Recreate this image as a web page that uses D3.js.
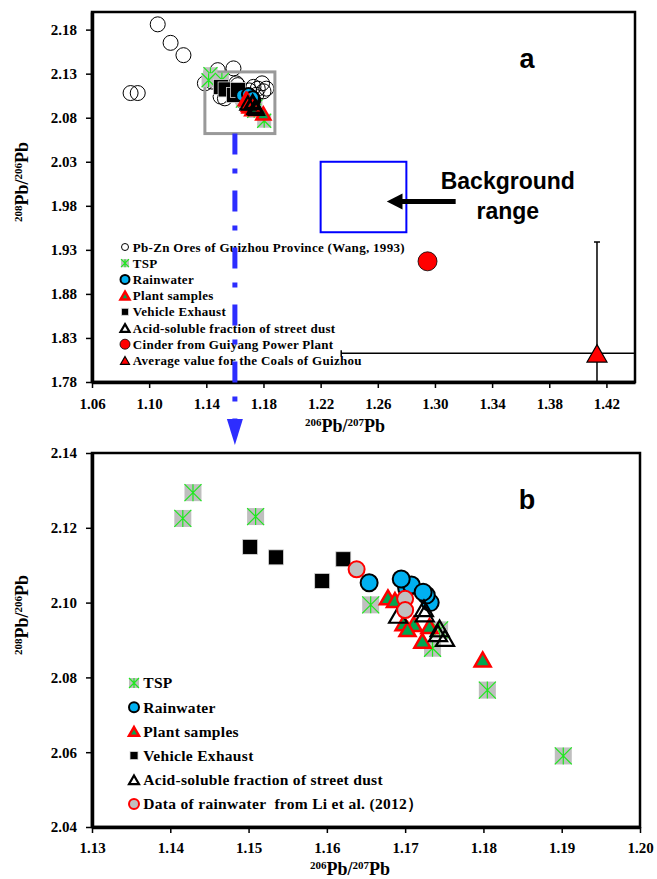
<!DOCTYPE html>
<html>
<head>
<meta charset="utf-8">
<script src="https://cdn.jsdelivr.net/npm/d3@7/dist/d3.min.js"></script>
<style>
  body { margin: 0; background: #fff; }
  svg { display: block; }
  text { white-space: pre; }
</style>
</head>
<body>
<div id="chart"></div>
<script>
// ---- data ([206Pb/207Pb, 208Pb/206Pb]) ----
const oreRatios = [[1.106, 2.186], [1.115, 2.165], [1.124, 2.151], [1.087, 2.108], [1.092, 2.108],
  [1.148, 2.134], [1.159, 2.136], [1.144, 2.121], [1.139, 2.119], [1.150, 2.104], [1.153, 2.102],
  [1.162, 2.117], [1.173, 2.115], [1.176, 2.113], [1.180, 2.110], [1.175, 2.106], [1.170, 2.111],
  [1.182, 2.113], [1.179, 2.119], [1.166, 2.098], [1.161, 2.119]];
const tspRatios = [[1.1429, 2.1294], [1.1416, 2.1225], [1.1509, 2.1230], [1.1656, 2.0994],
  [1.1744, 2.0927], [1.1735, 2.0878], [1.1805, 2.0766], [1.1902, 2.0590]];
const vehicleRatios = [[1.1502, 2.1149], [1.1535, 2.1121], [1.1594, 2.1058], [1.1621, 2.1116]];
const rainRatios = [[1.1654, 2.1053], [1.1702, 2.1038], [1.1708, 2.1047], [1.1695, 2.1063],
  [1.1732, 2.1000], [1.1727, 2.1020], [1.1723, 2.1028]];
const plantRatios = [[1.1678, 2.1014], [1.1687, 2.1007], [1.1698, 2.0945], [1.1711, 2.0943],
  [1.1703, 2.0929], [1.1731, 2.0937], [1.1722, 2.0898], [1.1799, 2.0848]];
const dustRatios = [[1.1691, 2.0967], [1.1724, 2.0985], [1.1725, 2.0971], [1.1744, 2.0931],
  [1.1742, 2.0918], [1.1751, 2.0905]];
const liRainRatios = [[1.1638, 2.1089], [1.1700, 2.1010], [1.1700, 2.0980]];
const cinderRatios = [[1.2948, 1.917]];
const coalRatios = [[1.4134, 1.8125]];
const coalError = [0.179, 0.1265];           // +/- x, +/- y
const backgroundRange = [1.22, 1.28, 1.95, 2.03];
const zoomBox = [1.139, 1.188, 2.062, 2.132];
const zoomLineX = 1.16;

const ticksAX = [1.06, 1.10, 1.14, 1.18, 1.22, 1.26, 1.30, 1.34, 1.38, 1.42];
const ticksAY = [1.78, 1.83, 1.88, 1.93, 1.98, 2.03, 2.08, 2.13, 2.18];
const ticksBX = [1.13, 1.14, 1.15, 1.16, 1.17, 1.18, 1.19, 1.20];
const ticksBY = [2.04, 2.06, 2.08, 2.10, 2.12, 2.14];

const legendA = [
  ["ore", "Pb-Zn Ores of Guizhou Province (Wang, 1993)"],
  ["tsp", "TSP"],
  ["rain", "Rainwater"],
  ["plant", "Plant samples"],
  ["vehicle", "Vehicle Exhaust"],
  ["dust", "Acid-soluble fraction of street dust"],
  ["cinder", "Cinder from Guiyang Power Plant"],
  ["coal", "Average value for the Coals of Guizhou"]
];
const legendB = [
  ["tsp", "TSP"],
  ["rain", "Rainwater"],
  ["plant", "Plant samples"],
  ["vehicle", "Vehicle Exhaust"],
  ["dust", "Acid-soluble fraction of street dust"],
  ["li", "Data of rainwater  from Li et al. (2012）"]
];

const W = 657, H = 879;
const SERIF = '"Liberation Serif", "Times New Roman", serif';
const SANS = '"Liberation Sans", Arial, sans-serif';

const svg = d3.select("#chart").append("svg").attr("width", W).attr("height", H);

const xA = d3.scaleLinear().domain([1.06, 1.44]).range([92, 635]);
const yA = d3.scaleLinear().domain([1.78, 2.20]).range([382, 12]);
const xB = d3.scaleLinear().domain([1.13, 1.20]).range([92, 640]);
const yB = d3.scaleLinear().domain([2.04, 2.14]).range([827, 453]);

// draw one marker of a given kind at the origin of g
function marker(g, kind, s) {
  const tri = d => {
    const h = d * 0.87;
    return `M0,${-h / 2}L${d / 2},${h / 2}L${-d / 2},${h / 2}Z`;
  };
  switch (kind) {
    case "ore":
      g.append("circle").attr("r", s).attr("fill", "none").attr("stroke", "#000").attr("stroke-width", 1);
      break;
    case "tsp":
      g.append("rect").attr("x", -s / 2).attr("y", -s / 2).attr("width", s).attr("height", s).attr("fill", "#bfbfbf");
      g.append("path")
        .attr("d", `M${-s / 2},${-s / 2}L${s / 2},${s / 2}M${s / 2},${-s / 2}L${-s / 2},${s / 2}M0,${-s / 2}L0,${s / 2}`)
        .attr("stroke", "#1ee81e").attr("stroke-width", 1.2);
      break;
    case "rain":
      g.append("circle").attr("r", s).attr("fill", "#00b0f0").attr("stroke", "#000").attr("stroke-width", 2);
      break;
    case "li":
      g.append("circle").attr("r", s).attr("fill", "#c0c0c0").attr("stroke", "#ff0000").attr("stroke-width", 2);
      break;
    case "plant":
      g.append("path").attr("d", tri(s)).attr("fill", "#00a650").attr("stroke", "#ff0000").attr("stroke-width", 2.5);
      break;
    case "vehicle":
      g.append("rect").attr("x", -s / 2).attr("y", -s / 2).attr("width", s).attr("height", s)
        .attr("fill", "#000").attr("stroke", "#d9d9d9").attr("stroke-width", 0.8);
      break;
    case "dust":
      g.append("path").attr("d", tri(s)).attr("fill", "none").attr("stroke", "#000").attr("stroke-width", 2.2);
      break;
    case "cinder":
      g.append("circle").attr("r", s).attr("fill", "#ff0000").attr("stroke", "#000").attr("stroke-width", 0.8);
      break;
    case "coal":
      g.append("path").attr("d", tri(s)).attr("fill", "#ff0000").attr("stroke", "#000").attr("stroke-width", 1.2);
      break;
  }
}

function series(layer, data, x, y, kind, s) {
  layer.append("g").selectAll("g").data(data).enter().append("g")
    .attr("transform", d => `translate(${x(d[0])},${y(d[1])})`)
    .each(function () { marker(d3.select(this), kind, s); });
}

function frame(g, x, y, ticksX, ticksY, padX) {
  const [x0, x1] = x.range(), [y0, y1] = y.range();
  g.append("rect").attr("x", x0).attr("y", y1).attr("width", x1 - x0).attr("height", y0 - y1)
    .attr("fill", "none").attr("stroke", "#000").attr("stroke-width", 2.5);

  const ax = g.append("g").attr("transform", `translate(0,${y0})`)
    .call(d3.axisBottom(x).tickValues(ticksX).tickFormat(d3.format(".2f")).tickSize(6).tickSizeOuter(0).tickPadding(padX));
  const ay = g.append("g").attr("transform", `translate(${x0},0)`)
    .call(d3.axisLeft(y).tickValues(ticksY).tickFormat(d3.format(".2f")).tickSize(6).tickSizeOuter(0).tickPadding(9));
  [ax, ay].forEach(a => {
    a.attr("font-family", SERIF).attr("font-size", 15).attr("font-weight", "bold");
    a.select(".domain").attr("stroke-width", 3.5);
    a.selectAll(".tick line").attr("stroke-width", 1.5);
  });
}

function isoLabel(g, a, b) {
  const t = g.append("text").attr("font-family", SERIF).attr("font-weight", "bold").attr("font-size", 18);
  t.append("tspan").attr("font-size", 11).attr("dy", -6).text(a);
  t.append("tspan").attr("dy", 6).text("Pb/");
  t.append("tspan").attr("font-size", 11).attr("dy", -6).text(b);
  t.append("tspan").attr("dy", 6).text("Pb");
  return t;
}

function legend(g, entries, x, y0, step, fs, sizes) {
  entries.forEach((e, i) => {
    const row = g.append("g").attr("transform", `translate(${x},${y0 + i * step})`);
    marker(row, e[0], sizes[e[0]]);
    row.append("text").attr("x", fs * 0.6).attr("y", fs * 0.35)
      .attr("font-family", SERIF).attr("font-weight", "bold").attr("font-size", fs)
      .attr("letter-spacing", 0.3).text(e[1]);
  });
}

// ================= panel a =================
const ga = svg.append("g");
ga.append("clipPath").attr("id", "clipA").append("rect")
  .attr("x", 92).attr("y", 12).attr("width", 543).attr("height", 370);

frame(ga, xA, yA, ticksAX, ticksAY, 10);

const plotA = ga.append("g").attr("clip-path", "url(#clipA)");

// background range box and its arrow
plotA.append("rect")
  .attr("x", xA(backgroundRange[0])).attr("y", yA(backgroundRange[3]))
  .attr("width", xA(backgroundRange[1]) - xA(backgroundRange[0]))
  .attr("height", yA(backgroundRange[2]) - yA(backgroundRange[3]))
  .attr("fill", "none").attr("stroke", "#0000ff").attr("stroke-width", 2);
const arrowY = yA(1.985);
plotA.append("line").attr("x1", xA(1.3145)).attr("x2", xA(1.276)).attr("y1", arrowY).attr("y2", arrowY)
  .attr("stroke", "#000").attr("stroke-width", 5);
plotA.append("path")
  .attr("d", `M${xA(1.2663)},${arrowY}L${xA(1.2773)},${arrowY - 8}L${xA(1.2773)},${arrowY + 8}Z`)
  .attr("fill", "#000");
ga.append("text").attr("text-anchor", "middle").attr("x", xA(1.351)).attr("y", yA(1.999))
  .attr("font-family", SANS).attr("font-weight", "bold").attr("font-size", 23).text("Background");
ga.append("text").attr("text-anchor", "middle").attr("x", xA(1.351)).attr("y", yA(1.965))
  .attr("font-family", SANS).attr("font-weight", "bold").attr("font-size", 23).text("range");

// coal error bars
const cx = xA(coalRatios[0][0]), cy = yA(coalRatios[0][1]);
const exL = xA(coalRatios[0][0] - coalError[0]), exR = xA(coalRatios[0][0] + coalError[0]);
const eyT = yA(coalRatios[0][1] + coalError[1]), eyB = yA(coalRatios[0][1] - coalError[1]);
plotA.append("path")
  .attr("d", `M${exL},${cy}L${exR},${cy}M${exL},${cy - 3}L${exL},${cy + 3}M${cx},${eyT}L${cx},${eyB}M${cx - 3},${eyT}L${cx + 3},${eyT}`)
  .attr("stroke", "#000").attr("stroke-width", 1.5).attr("fill", "none");

series(plotA, oreRatios, xA, yA, "ore", 7.5);

// zoom box
plotA.append("rect")
  .attr("x", xA(zoomBox[0])).attr("y", yA(zoomBox[3]))
  .attr("width", xA(zoomBox[1]) - xA(zoomBox[0]))
  .attr("height", yA(zoomBox[2]) - yA(zoomBox[3]))
  .attr("fill", "none").attr("stroke", "#999").attr("stroke-width", 3);

// panel a only shows the samples that fall inside the zoom box
const inBox = d => d[1] >= zoomBox[2];
series(plotA, tspRatios.filter(inBox), xA, yA, "tsp", 14);
series(plotA, vehicleRatios, xA, yA, "vehicle", 15);
series(plotA, rainRatios, xA, yA, "rain", 6.5);
series(plotA, plantRatios, xA, yA, "plant", 14);
series(plotA, dustRatios, xA, yA, "dust", 15);
series(plotA, cinderRatios, xA, yA, "cinder", 9.5);
series(plotA, coalRatios, xA, yA, "coal", 20);

legend(ga, legendA, 125, 247, 16.2, 13,
  { ore: 3.5, tsp: 8, rain: 4.5, plant: 9, vehicle: 7, dust: 9, cinder: 5, coal: 9 });

// blue dash-dot link from box to panel b
const lx = xA(zoomLineX);
svg.append("line").attr("x1", lx).attr("x2", lx).attr("y1", yA(zoomBox[2])).attr("y2", yA(1.78) + 38)
  .attr("stroke", "#2d2dff").attr("stroke-width", 5).attr("stroke-dasharray", "21,14,5,17");
svg.append("path").attr("d", `M${lx - 8},${yA(1.78) + 37}L${lx + 8},${yA(1.78) + 37}L${lx},${yA(1.78) + 63}Z`)
  .attr("fill", "#2d2dff");

ga.append("text").attr("x", 527).attr("y", 68).attr("text-anchor", "middle")
  .attr("font-family", SANS).attr("font-weight", "bold").attr("font-size", 27).text("a");

isoLabel(ga, "206", "207").attr("x", 305).attr("y", 432);
isoLabel(ga, "208", "206").attr("transform", "translate(28,222) rotate(-90)");

// ================= panel b =================
const gb = svg.append("g");
frame(gb, xB, yB, ticksBX, ticksBY, 9);
const plotB = gb.append("g");

series(plotB, tspRatios, xB, yB, "tsp", 17);
series(plotB, vehicleRatios, xB, yB, "vehicle", 15);
series(plotB, rainRatios, xB, yB, "rain", 8.5);
series(plotB, plantRatios, xB, yB, "plant", 16);
series(plotB, dustRatios, xB, yB, "dust", 18);
series(plotB, liRainRatios, xB, yB, "li", 8);

legend(gb, legendB, 134, 683, 24.2, 15.5,
  { tsp: 10, rain: 5, plant: 10, vehicle: 8, dust: 10, li: 5 });

gb.append("text").attr("x", 527).attr("y", 509).attr("text-anchor", "middle")
  .attr("font-family", SANS).attr("font-weight", "bold").attr("font-size", 27).text("b");

isoLabel(gb, "206", "207").attr("x", 310).attr("y", 875);
isoLabel(gb, "208", "206").attr("transform", "translate(28,655) rotate(-90)");
</script>
</body>
</html>
